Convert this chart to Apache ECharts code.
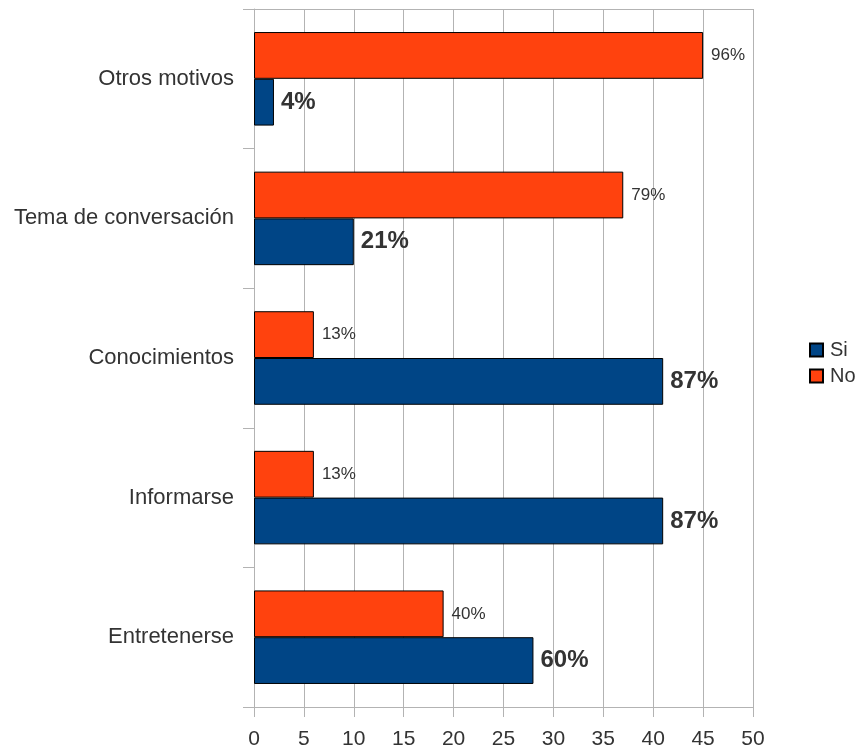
<!DOCTYPE html>
<html>
<head>
<meta charset="utf-8">
<script src="https://cdn.jsdelivr.net/npm/echarts@6/dist/echarts.min.js"></script>
<style>
  html, body { margin: 0; padding: 0; background: #fff; }
  #chart { width: 861px; height: 748px; }
</style>
</head>
<body>
<div id="chart"></div>
<script>
// Categories, bottom to top along the vertical axis
const categories = ['Entretenerse', 'Informarse', 'Conocimientos', 'Tema de conversación', 'Otros motivos'];
// Answer counts per category
const siValues = [28, 41, 41, 10, 2];
const noValues = [19, 6, 6, 37, 45];
// Percentage labels shown beside each bar
const siLabels = ['60%', '87%', '87%', '21%', '4%'];
const noLabels = ['40%', '13%', '13%', '79%', '96%'];
// Horizontal axis ticks
const xMin = 0, xMax = 50, xStep = 5;

const FONT = 'Liberation Sans, Arial, sans-serif';
const TEXT = '#333333';
const LINE = '#b3b3b3';

const chart = echarts.init(document.getElementById('chart'), null, { renderer: 'canvas' });

chart.setOption({
  animation: false,
  backgroundColor: '#ffffff',
  textStyle: { fontFamily: FONT },
  grid: {
    left: 254, right: 108, top: 9, bottom: 41,
    containLabel: false,
    outerBoundsMode: 'none'
  },
  legend: {
    orient: 'vertical',
    left: 809,
    top: 340,
    padding: 0,
    itemWidth: 13,
    itemHeight: 13,
    itemGap: 6,
    icon: 'rect',
    textStyle: { fontFamily: FONT, fontSize: 20, color: TEXT, padding: [0, 0, 0, 2] },
    data: ['Si', 'No']
  },
  xAxis: [
    {
      type: 'value',
      position: 'bottom',
      min: xMin, max: xMax, interval: xStep,
      axisLine: { show: true, lineStyle: { color: LINE, width: 1 } },
      axisTick: { show: true, length: 10, lineStyle: { color: LINE } },
      axisLabel: { fontFamily: FONT, fontSize: 21, color: TEXT, margin: 22 },
      splitLine: { show: true, lineStyle: { color: LINE, width: 1 } }
    },
    {
      type: 'value',
      position: 'top',
      min: xMin, max: xMax, interval: xStep,
      axisLine: { show: true, lineStyle: { color: LINE, width: 1 } },
      axisTick: { show: false },
      axisLabel: { show: false },
      splitLine: { show: false }
    }
  ],
  yAxis: {
    type: 'category',
    data: categories,
    boundaryGap: true,
    axisLine: { show: true, lineStyle: { color: LINE, width: 1 } },
    axisTick: { show: true, length: 11, inside: false, lineStyle: { color: LINE } },
    axisLabel: { fontFamily: FONT, fontSize: 22, color: TEXT, margin: 20 },
    splitLine: { show: false }
  },
  // "No" is listed first so it sits above "Si" inside each category band
  series: [
    {
      name: 'No',
      type: 'bar',
      data: noValues,
      barCategoryGap: '33%',
      barGap: '0%',
      itemStyle: { color: '#ff420e', borderColor: '#000000', borderWidth: 1 },
      label: {
        show: true,
        position: 'right',
        distance: 8,
        fontFamily: FONT,
        fontSize: 17,
        color: TEXT,
        formatter: p => noLabels[p.dataIndex]
      }
    },
    {
      name: 'Si',
      type: 'bar',
      data: siValues,
      barCategoryGap: '33%',
      barGap: '0%',
      itemStyle: { color: '#004586', borderColor: '#000000', borderWidth: 1 },
      label: {
        show: true,
        position: 'right',
        distance: 7,
        fontFamily: FONT,
        fontSize: 24,
        fontWeight: 'bold',
        color: TEXT,
        formatter: p => siLabels[p.dataIndex]
      }
    }
  ]
});
</script>
</body>
</html>
